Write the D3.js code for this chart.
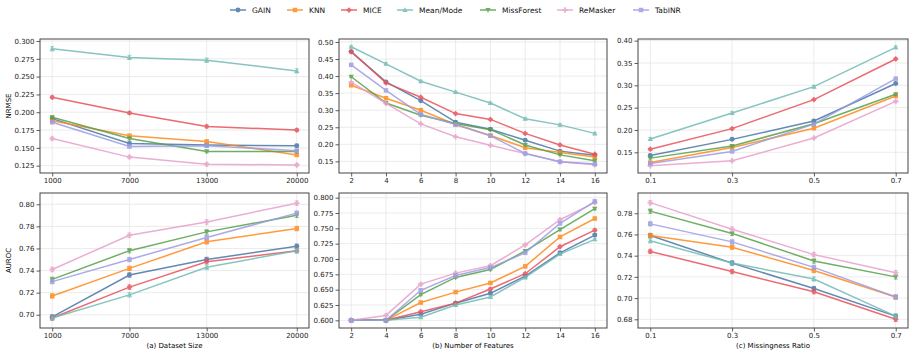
<!DOCTYPE html>
<html>
<head>
<meta charset="utf-8">
<script src="https://cdn.jsdelivr.net/npm/d3@7"></script>
<style>
  body { margin: 0; background: #fff; }
  svg { font-family: "DejaVu Sans", sans-serif; }
</style>
</head>
<body>
<svg width="913" height="355"></svg>
<script>
// methods and styles
var methods = ["GAIN", "KNN", "MICE", "Mean/Mode", "MissForest", "ReMasker", "TabINR"];
var colors = ["#4a76a8", "#ff8a1c", "#e8525a", "#72bcb5", "#55a04b", "#e8a0cc", "#9d9de3"];
var shapes = ["circle", "square", "diamond", "triUp", "triDown", "plus", "square"];

// x values
var sizes = [1000, 7000, 13000, 20000];
var features = [2, 4, 6, 8, 10, 12, 14, 16];
var ratios = [0.1, 0.3, 0.5, 0.7];

// NRMSE, one row per method (same order as methods)
var nrmseSize = [
  [0.191, 0.156, 0.154, 0.153],
  [0.188, 0.167, 0.159, 0.140],
  [0.221, 0.199, 0.180, 0.175],
  [0.289, 0.277, 0.273, 0.258],
  [0.193, 0.163, 0.145, 0.145],
  [0.163, 0.137, 0.127, 0.126],
  [0.186, 0.152, 0.153, 0.146]
];
var nrmseFeat = [
  [0.471, 0.383, 0.328, 0.265, 0.244, 0.212, 0.180, 0.168],
  [0.373, 0.335, 0.300, 0.258, 0.226, 0.190, 0.176, 0.163],
  [0.472, 0.380, 0.338, 0.290, 0.273, 0.232, 0.198, 0.171],
  [0.486, 0.436, 0.385, 0.353, 0.321, 0.275, 0.257, 0.232],
  [0.398, 0.321, 0.285, 0.261, 0.243, 0.198, 0.169, 0.152],
  [0.382, 0.320, 0.260, 0.222, 0.197, 0.173, 0.149, 0.140],
  [0.433, 0.358, 0.288, 0.258, 0.225, 0.173, 0.149, 0.142]
];
var nrmseRatio = [
  [0.143, 0.179, 0.220, 0.304],
  [0.127, 0.161, 0.204, 0.276],
  [0.157, 0.203, 0.268, 0.359],
  [0.180, 0.238, 0.297, 0.385],
  [0.137, 0.164, 0.214, 0.280],
  [0.120, 0.131, 0.182, 0.264],
  [0.125, 0.152, 0.213, 0.315]
];

// AUROC
var aurocSize = [
  [0.698, 0.736, 0.750, 0.762],
  [0.717, 0.742, 0.766, 0.778],
  [0.697, 0.725, 0.748, 0.758],
  [0.697, 0.718, 0.743, 0.758],
  [0.732, 0.758, 0.775, 0.790],
  [0.741, 0.772, 0.784, 0.801],
  [0.730, 0.750, 0.770, 0.792]
];
var aurocFeat = [
  [0.600, 0.600, 0.610, 0.628, 0.644, 0.672, 0.710, 0.739],
  [0.600, 0.600, 0.629, 0.646, 0.661, 0.688, 0.736, 0.766],
  [0.600, 0.600, 0.614, 0.628, 0.651, 0.676, 0.720, 0.747],
  [0.600, 0.600, 0.605, 0.625, 0.638, 0.670, 0.708, 0.732],
  [0.600, 0.600, 0.642, 0.670, 0.683, 0.713, 0.748, 0.782],
  [0.600, 0.608, 0.659, 0.677, 0.689, 0.723, 0.764, 0.792],
  [0.600, 0.600, 0.649, 0.673, 0.686, 0.710, 0.758, 0.794]
];
var aurocRatio = [
  [0.759, 0.733, 0.709, 0.683],
  [0.759, 0.748, 0.726, 0.701],
  [0.744, 0.725, 0.706, 0.680],
  [0.754, 0.733, 0.718, 0.683],
  [0.782, 0.761, 0.735, 0.720],
  [0.790, 0.765, 0.741, 0.724],
  [0.770, 0.753, 0.729, 0.701]
];

// error bar half widths per method
var errNrmse = [0.002, 0.002, 0.002, 0.003, 0.002, 0.002, 0.002];
var errAuroc = [0.002, 0.002, 0.002, 0.002, 0.002, 0.002, 0.002];

// tick labels
var sizeTicks = [1000, 7000, 13000, 20000];
var featTicks = [2, 4, 6, 8, 10, 12, 14, 16];
var ratioTicks = [0.1, 0.3, 0.5, 0.7];

var cols = [{x0: 40, x1: 309}, {x0: 339, x1: 607}, {x0: 638, x1: 908}];
var rows = [{y0: 39, y1: 173}, {y0: 193, y1: 328}];

var panels = [
  {r: 0, c: 0, xs: sizes, data: nrmseSize, err: errNrmse, xd: [50, 20950], yd: [0.1147, 0.3028],
   xt: sizeTicks, yt: d3.range(0.125, 0.3001, 0.025), xf: d3.format("d"), yf: d3.format(".3f")},
  {r: 0, c: 1, xs: features, data: nrmseFeat, err: errNrmse, xd: [1.3, 16.7], yd: [0.1159, 0.5087],
   xt: featTicks, yt: d3.range(0.15, 0.5001, 0.05), xf: d3.format("d"), yf: d3.format(".2f")},
  {r: 0, c: 2, xs: ratios, data: nrmseRatio, err: errNrmse, xd: [0.07, 0.73], yd: [0.1037, 0.4037],
   xt: ratioTicks, yt: d3.range(0.15, 0.4001, 0.05), xf: d3.format(".1f"), yf: d3.format(".2f")},
  {r: 1, c: 0, xs: sizes, data: aurocSize, err: errAuroc, xd: [50, 20950], yd: [0.688, 0.8102],
   xt: sizeTicks, yt: d3.range(0.70, 0.8001, 0.02), xf: d3.format("d"), yf: d3.format(".2f")},
  {r: 1, c: 1, xs: features, data: aurocFeat, err: errAuroc, xd: [1.3, 16.7], yd: [0.5875, 0.8076],
   xt: featTicks, yt: d3.range(0.600, 0.8001, 0.025), xf: d3.format("d"), yf: d3.format(".3f")},
  {r: 1, c: 2, xs: ratios, data: aurocRatio, err: errAuroc, xd: [0.07, 0.73], yd: [0.6718, 0.7991],
   xt: ratioTicks, yt: d3.range(0.68, 0.7801, 0.02), xf: d3.format(".1f"), yf: d3.format(".2f")}
];

var svg = d3.select("svg");

function markerPath(shape, s) {
  var h = s / 2;
  if (shape == "circle") return d3.symbol(d3.symbolCircle, s * s * 0.78)();
  if (shape == "square") return "M" + (-h * 0.9) + "," + (-h * 0.9) + "h" + (1.8 * h) + "v" + (1.8 * h) + "h" + (-1.8 * h) + "Z";
  if (shape == "diamond") return "M0," + (-h * 1.15) + "L" + (h * 1.15) + ",0L0," + (h * 1.15) + "L" + (-h * 1.15) + ",0Z";
  if (shape == "triUp") return "M0," + (-h * 1.1) + "L" + (h * 1.05) + "," + (h * 0.8) + "L" + (-h * 1.05) + "," + (h * 0.8) + "Z";
  if (shape == "triDown") return "M0," + (h * 1.1) + "L" + (h * 1.05) + "," + (-h * 0.8) + "L" + (-h * 1.05) + "," + (-h * 0.8) + "Z";
  if (shape == "plus") {
    var a = h * 0.35, b = h * 1.1;
    return "M" + (-a) + "," + (-b) + "H" + a + "V" + (-a) + "H" + b + "V" + a + "H" + a + "V" + b + "H" + (-a) + "V" + a + "H" + (-b) + "V" + (-a) + "H" + (-a) + "Z";
  }
}

panels.forEach(function(p) {
  var col = cols[p.c], row = rows[p.r];
  var x = d3.scaleLinear().domain(p.xd).range([col.x0, col.x1]);
  var y = d3.scaleLinear().domain(p.yd).range([row.y1, row.y0]);
  var g = svg.append("g");

  // grid
  g.selectAll("line.gx").data(p.xt).enter().append("line")
    .attr("x1", function(d) { return x(d); }).attr("x2", function(d) { return x(d); })
    .attr("y1", row.y0).attr("y2", row.y1)
    .attr("stroke", "#e6e6e6").attr("stroke-width", 0.8);
  g.selectAll("line.gy").data(p.yt).enter().append("line")
    .attr("y1", function(d) { return y(d); }).attr("y2", function(d) { return y(d); })
    .attr("x1", col.x0).attr("x2", col.x1)
    .attr("stroke", "#e6e6e6").attr("stroke-width", 0.8);

  // axes
  var xa = g.append("g").attr("transform", "translate(0," + row.y1 + ")")
    .call(d3.axisBottom(x).tickValues(p.xt).tickFormat(p.xf).tickSize(3.5).tickPadding(2));
  var ya = g.append("g").attr("transform", "translate(" + col.x0 + ",0)")
    .call(d3.axisLeft(y).tickValues(p.yt).tickFormat(p.yf).tickSize(3.5).tickPadding(2));
  [xa, ya].forEach(function(a) {
    a.select(".domain").remove();
    a.selectAll("line").attr("stroke", "#333").attr("stroke-width", 0.8);
    a.selectAll("text").attr("fill", "#222").style("font-size", "7px").style("font-family", "DejaVu Sans");
  });

  // series
  var line = d3.line().x(function(d) { return x(d[0]); }).y(function(d) { return y(d[1]); });
  p.data.forEach(function(vals, m) {
    var pts = vals.map(function(v, i) { return [p.xs[i], v]; });
    var sg = g.append("g").attr("opacity", 0.85);
    sg.append("path").datum(pts).attr("d", line)
      .attr("fill", "none").attr("stroke", colors[m]).attr("stroke-width", 1.5);
    var e = p.err[m];
    pts.forEach(function(d) {
      var cx = x(d[0]);
      sg.append("line").attr("x1", cx).attr("x2", cx)
        .attr("y1", y(d[1] - e)).attr("y2", y(d[1] + e))
        .attr("stroke", colors[m]).attr("stroke-width", 1);
      [d[1] - e, d[1] + e].forEach(function(v) {
        sg.append("line").attr("x1", cx - 2).attr("x2", cx + 2)
          .attr("y1", y(v)).attr("y2", y(v))
          .attr("stroke", colors[m]).attr("stroke-width", 0.8);
      });
    });
    sg.selectAll("path.mk").data(pts).enter().append("path")
      .attr("class", "mk")
      .attr("transform", function(d) { return "translate(" + x(d[0]) + "," + y(d[1]) + ")"; })
      .attr("d", markerPath(shapes[m], 5))
      .attr("fill", colors[m]);
  });

  // frame
  g.append("rect").attr("x", col.x0).attr("y", row.y0)
    .attr("width", col.x1 - col.x0).attr("height", row.y1 - row.y0)
    .attr("fill", "none").attr("stroke", "#444").attr("stroke-width", 1);
});

// axis titles
svg.append("text").attr("transform", "translate(11," + ((rows[0].y0 + rows[0].y1) / 2) + ") rotate(-90)")
  .attr("text-anchor", "middle").style("font-size", "7px").text("NRMSE");
svg.append("text").attr("transform", "translate(11," + ((rows[1].y0 + rows[1].y1) / 2) + ") rotate(-90)")
  .attr("text-anchor", "middle").style("font-size", "7px").text("AUROC");
var xTitles = ["(a) Dataset Size", "(b) Number of Features", "(c) Missingness Ratio"];
xTitles.forEach(function(t, i) {
  svg.append("text").attr("x", (cols[i].x0 + cols[i].x1) / 2).attr("y", 348)
    .attr("text-anchor", "middle").style("font-size", "7px").text(t);
});

// legend
var legendX = [230, 287, 341, 397, 480, 557, 633];
var lg = svg.append("g");
methods.forEach(function(name, m) {
  var item = lg.append("g").attr("transform", "translate(" + legendX[m] + ",10)").attr("opacity", 0.85);
  item.append("line").attr("x1", 0).attr("x2", 16).attr("y1", 0).attr("y2", 0)
    .attr("stroke", colors[m]).attr("stroke-width", 1.5);
  item.append("path").attr("transform", "translate(8,0)")
    .attr("d", markerPath(shapes[m], 5)).attr("fill", colors[m]);
  lg.append("text").attr("x", legendX[m] + 22).attr("y", 10).attr("dy", "0.35em")
    .style("font-size", "7.5px").attr("fill", "#111").text(name);
});
</script>
</body>
</html>
